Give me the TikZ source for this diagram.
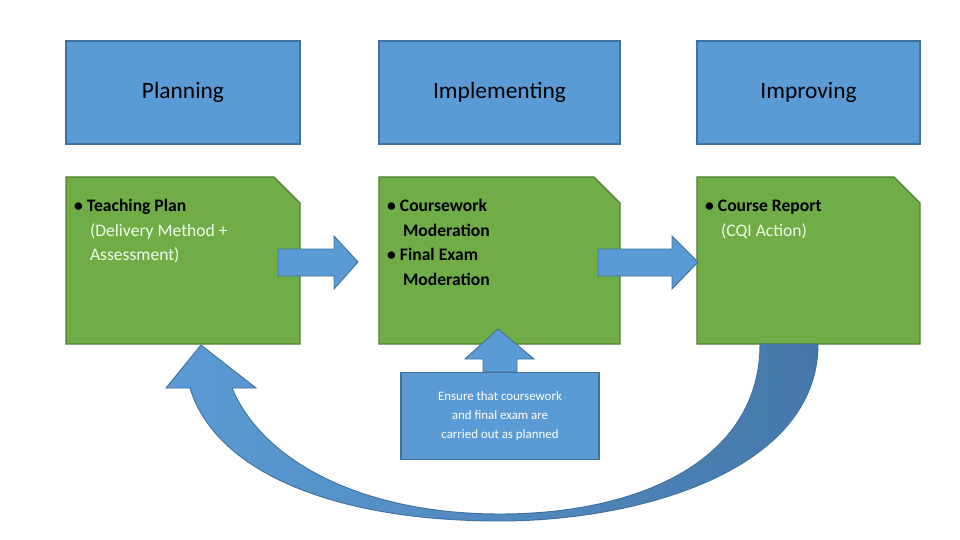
\documentclass[tikz,border=0pt]{standalone}
\usepackage{fontspec}
\setmainfont{Carlito}
\usetikzlibrary{positioning}
\definecolor{cblue}{RGB}{91,155,213}
\definecolor{cblueline}{RGB}{65,113,156}
\definecolor{cbluedark}{RGB}{70,120,170}
\definecolor{cgreen}{RGB}{112,173,71}
\definecolor{cgreenline}{RGB}{80,126,50}
\tikzset{head/.style={draw=cblueline,fill=cblue,line width=1pt},
  fold/.style={draw=cgreenline,fill=cgreen,line width=1pt},
  arrow/.style={draw=cblueline,fill=cblue,line width=0.8pt},
  item/.style={anchor=north west,align=left,inner sep=0pt,font=\fontsize{15}{21}\selectfont}}

\begin{document}
\begin{tikzpicture}[x=0.03cm,y=-0.03cm]
\useasboundingbox (0,0) rectangle (960,540);
% header boxes
\node[head,minimum width=7.02cm,minimum height=3.09cm,font=\fontsize{20}{24}\selectfont] (plan) at (183,92.5) {Planning};
\node[head,minimum width=7.23cm,minimum height=3.09cm,font=\fontsize{20}{24}\selectfont] (impl) at (499.5,92.5) {Implementing};
\node[head,minimum width=6.69cm,minimum height=3.09cm,font=\fontsize{20}{24}\selectfont] (impr) at (808.5,92.5) {Improving};

% green boxes with snipped corner
\path[fold] (66,177) -- (274,177) -- (300,203) -- (300,344) -- (66,344) -- cycle;
\path[fold] (379,177) -- (594,177) -- (620,203) -- (620,344) -- (379,344) -- cycle;
\path[fold] (697,177) -- (894,177) -- (920,203) -- (920,344) -- (697,344) -- cycle;
\node[item] (tplan) at (74,199) {\textbf{\textbullet\ Teaching Plan}\\\color{white!92!green}\hspace{0.9em}(Delivery Method +\\\color{white!92!green}\hspace{0.9em}Assessment)};
\node[item] (cwork) at (387,199) {\textbf{\textbullet\ Coursework}\\\hspace{0.9em}\textbf{Moderation}\\\textbf{\textbullet\ Final Exam}\\\hspace{0.9em}\textbf{Moderation}};
\node[item] (creport) at (705,200) {\textbf{\textbullet\ Course Report}\\\color{white!92!green}\hspace{0.9em}(CQI Action)};

% block arrows
\path[arrow] (278,249) -- (334,249) -- (334,236) -- (358,262) -- (334,289) -- (334,276) -- (278,276) -- cycle;
\path[arrow] (598,249) -- (672,249) -- (672,236) -- (698,262) -- (672,289) -- (672,276) -- (598,276) -- cycle;
\path[arrow] (483,372) -- (483,359) -- (465,359) -- (498,329) -- (534,359) -- (517,359) -- (517,372) -- cycle;

% note box
\node[head,minimum width=5.94cm,minimum height=2.61cm,align=center,font=\fontsize{11}{16.5}\selectfont,text=white] (note) at (500,416) {Ensure that coursework\\and final exam are\\carried out as planned};

% return arrow
\path[draw=cblueline,line width=0.8pt,left color=cblue,right color=cbluedark]
  (818,344) .. controls (818,470) and (640,521) .. (500,521)
  .. controls (330,521) and (215,470) .. (190,388) -- (166,388) -- (201,345) -- (256,388) -- (232,388)
  .. controls (262,460) and (360,514) .. (500,514)
  .. controls (640,514) and (760,460) .. (760,344) -- cycle;
\end{tikzpicture}
\end{document}
